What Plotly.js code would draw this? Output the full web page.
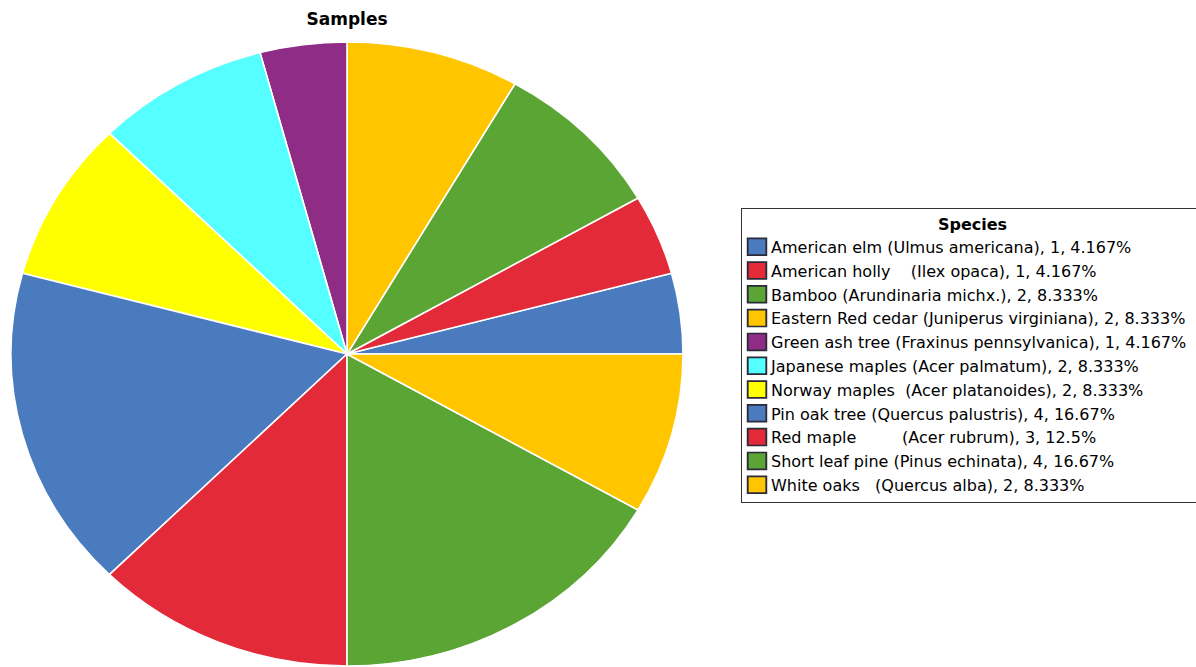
<!DOCTYPE html>
<html>
<head>
<meta charset="utf-8">
<script src="https://cdn.plot.ly/plotly-3.0.1.min.js"></script>
<style>
html,body{margin:0;padding:0;background:#fff;}
#chart{width:1196px;height:667px;}
</style>
</head>
<body>
<div id="chart"></div>
<script>
var NB = '\u00A0';
var species = [
  'American elm (Ulmus americana)',
  'American holly' + NB.repeat(4) + '(Ilex opaca)',
  'Bamboo (Arundinaria michx.)',
  'Eastern Red cedar (Juniperus virginiana)',
  'Green ash tree (Fraxinus pennsylvanica)',
  'Japanese maples (Acer palmatum)',
  'Norway maples' + NB.repeat(2) + '(Acer platanoides)',
  'Pin oak tree (Quercus palustris)',
  'Red maple' + NB.repeat(9) + '(Acer rubrum)',
  'Short leaf pine (Pinus echinata)',
  'White oaks' + NB.repeat(3) + '(Quercus alba)'
];
var counts = [1, 1, 2, 2, 1, 2, 2, 4, 3, 4, 2];
var percents = ['4.167%', '4.167%', '8.333%', '8.333%', '4.167%', '8.333%', '8.333%', '16.67%', '12.5%', '16.67%', '8.333%'];
var colors = ['#4a7bbf', '#e22a39', '#5ba535', '#ffc600', '#8e2c86', '#55ffff', '#ffff00', '#4a7bbf', '#e22a39', '#5ba535', '#ffc600'];

var labels = species.map(function (s, i) { return s + ', ' + counts[i] + ', ' + percents[i]; });

var W = 1196, H = 667;
var cx = 347, cy = 354, ry = 312, rx = 336;
var FONT = 'DejaVu Sans, Verdana, sans-serif';

var trace = {
  type: 'pie',
  labels: labels,
  values: counts,
  sort: false,
  direction: 'counterclockwise',
  rotation: 75,
  textinfo: 'none',
  hoverinfo: 'none',
  marker: { colors: colors, line: { color: '#ffffff', width: 1.5 } },
  domain: { x: [(cx - ry) / W, (cx + ry) / W], y: [1 - (cy + ry) / H, 1 - (cy - ry) / H] }
};

var layout = {
  width: W, height: H,
  margin: { l: 0, r: 0, t: 0, b: 0, autoexpand: false },
  paper_bgcolor: '#ffffff',
  font: { family: FONT, color: '#000000' },
  title: {
    text: '<b>Samples</b>',
    font: { size: 17, family: FONT, color: '#000' },
    xref: 'paper', yref: 'paper',
    x: cx / W, xanchor: 'center',
    y: 1 - 19 / H, yanchor: 'middle'
  },
  showlegend: true,
  legend: {
    x: 741 / W, xanchor: 'left',
    y: 1 - 208 / H, yanchor: 'top',
    bgcolor: '#ffffff',
    bordercolor: '#333333',
    borderwidth: 1,
    font: { size: 16, family: FONT, color: '#000' },
    title: { text: '<b>Species</b>', side: 'top center', font: { size: 16, family: FONT } },
    traceorder: 'normal'
  }
};

Plotly.newPlot('chart', [trace], layout, { displayModeBar: false, staticPlot: true }).then(function (gd) {
  var k = rx / ry;
  var pl = gd.querySelector('.pielayer');
  if (pl) pl.setAttribute('transform', 'translate(' + cx + ',0) scale(' + k + ',1) translate(' + (-cx) + ',0)');
  gd.querySelectorAll('.legendpoints path').forEach(function (p) {
    p.style.stroke = '#2a2a3a';
    p.style.strokeWidth = '1.2px';
    p.setAttribute('transform', 'translate(15,0) scale(1.55,1.4)');
  });
  gd.querySelectorAll('.legendtext').forEach(function (t) {
    t.setAttribute('x', 29);
    t.querySelectorAll('tspan.line').forEach(function (s) { s.setAttribute('x', 29); });
  });
});
</script>
</body>
</html>
